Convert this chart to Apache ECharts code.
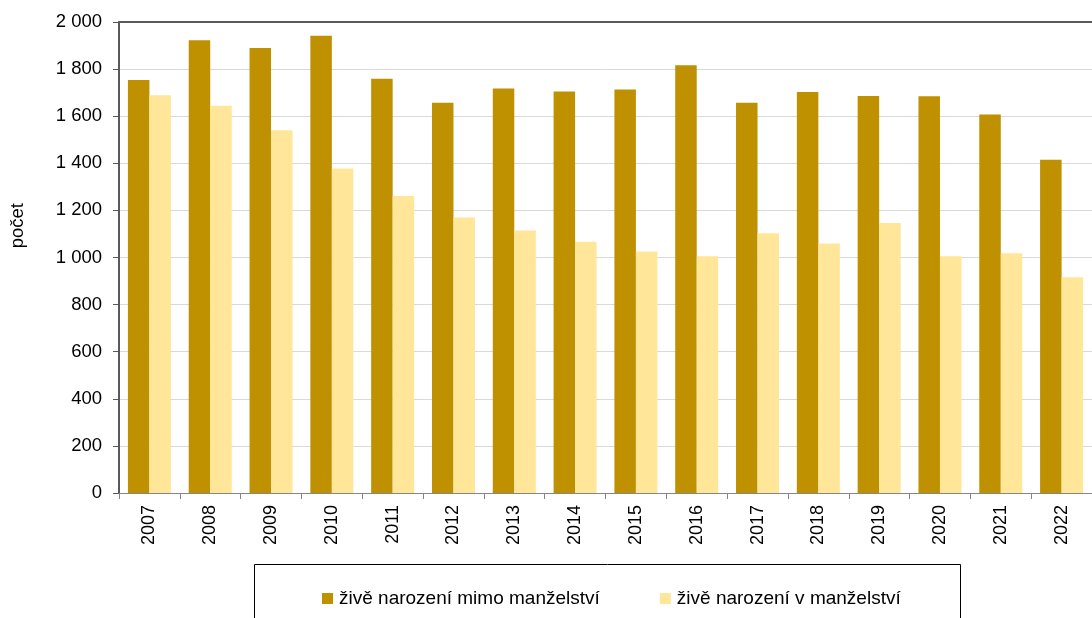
<!DOCTYPE html>
<html>
<head>
<meta charset="utf-8">
<script src="https://cdn.jsdelivr.net/npm/echarts@6/dist/echarts.min.js"></script>
<style>html,body{margin:0;padding:0;background:#fff}#c{width:1092px;height:618px}</style>
</head>
<body>
<div id="c"></div>
<script>
var years = ['2007','2008','2009','2010','2011','2012','2013','2014','2015','2016','2017','2018','2019','2020','2021','2022'];
var mimoManzelstvi = [1754,1923,1890,1942,1759,1657,1718,1705,1713,1816,1657,1703,1686,1685,1607,1415];
var vManzelstvi = [1689,1644,1540,1378,1261,1170,1115,1067,1025,1005,1103,1059,1146,1005,1018,916];
var seriesNames = ['živě narození mimo manželství','živě narození v manželství'];
var yAxisName = 'počet';

var chart = echarts.init(document.getElementById('c'));
var font = 'Liberation Sans, Arial, sans-serif';
chart.setOption({
  animation: false,
  textStyle: {fontFamily: font},
  grid: {left: 119, top: 22, width: 981, height: 471, containLabel: false},
  legend: {
    left: 317, top: 584,
    itemWidth: 11, itemHeight: 11, itemGap: 60,
    icon: 'rect',
    textStyle: {fontSize: 19, color: '#000', fontFamily: font, padding: [0,0,0,1]},
    data: seriesNames
  },
  graphic: [
    {type: 'rect', left: 252, top: 562, shape: {width: 706, height: 80}, style: {fill: 'none', stroke: '#000', lineWidth: 1}, z: -1},
    {type: 'text', left: 8, top: 203, rotation: Math.PI/2, style: {text: yAxisName, font: '18.5px ' + font, fill: '#000'}}
  ],
  xAxis: [{
    type: 'category', data: years,
    axisLine: {lineStyle: {color: '#868686', width: 1}},
    axisTick: {show: true, length: 6, lineStyle: {color: '#868686'}},
    axisLabel: {rotate: 90, fontSize: 18, color: '#000', margin: 12}
  }, {
    type: 'category', data: years, position: 'top',
    axisLine: {lineStyle: {color: '#595959', width: 2}},
    axisTick: {show: false}, axisLabel: {show: false}
  }],
  yAxis: {
    type: 'value', min: 0, max: 2000, interval: 200,
    axisLine: {show: true, lineStyle: {color: '#595959', width: 2}},
    axisTick: {show: true, length: 6, lineStyle: {color: '#595959'}},
    splitLine: {lineStyle: {color: '#d9d9d9', width: 1}},
    axisLabel: {fontSize: 18.5, color: '#000', margin: 17,
      formatter: function(v){ return String(v).replace(/\B(?=(\d{3})+(?!\d))/g, ' '); }}
  },
  series: [
    {name: seriesNames[0], type: 'bar', data: mimoManzelstvi, barWidth: 21.5, barGap: '0%',
     itemStyle: {color: '#BF9000'}},
    {name: seriesNames[1], type: 'bar', data: vManzelstvi, barWidth: 21.5, barGap: '0%',
     itemStyle: {color: '#FFE699'}}
  ]
});
</script>
</body>
</html>
